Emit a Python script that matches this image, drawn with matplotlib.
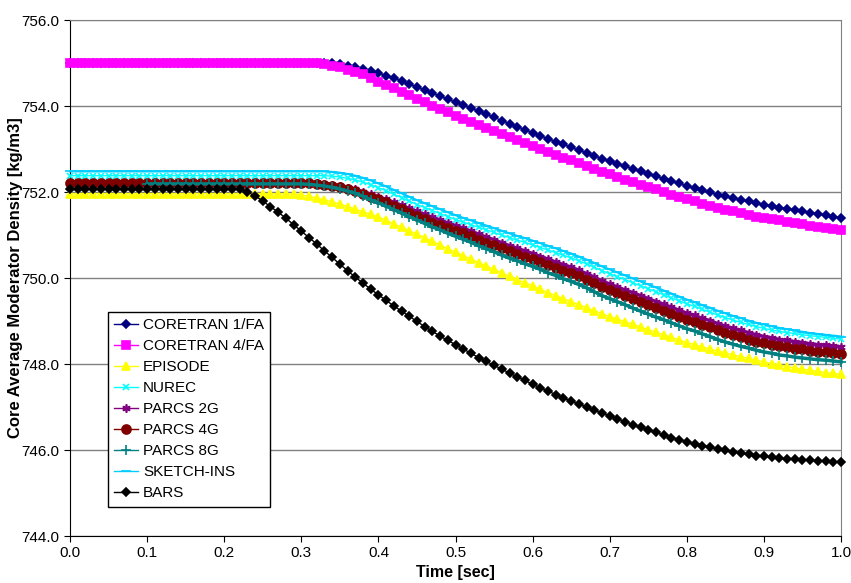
import matplotlib.pyplot as plt
import numpy as np

plt.rcParams['font.family'] = ['Liberation Sans', 'DejaVu Sans']

color_grid = "#808080"
color_label = "black"

# tempo [s], un punto ogni 0.01 s
time = np.round(np.arange(0, 101) * 0.01, 2)
time_8g = time[10:]

coretran_1fa = [
    755.00, 755.00, 755.00, 755.00, 755.00, 755.00, 755.00, 755.00, 755.00, 755.00,
    755.00, 755.00, 755.00, 755.00, 755.00, 755.00, 755.00, 755.00, 755.00, 755.00,
    755.00, 755.00, 755.00, 755.00, 755.00, 755.00, 755.00, 755.00, 755.00, 755.00,
    755.00, 755.00, 755.00, 755.00, 754.99, 754.97, 754.94, 754.90, 754.86, 754.82,
    754.77, 754.71, 754.65, 754.58, 754.51, 754.44, 754.37, 754.30, 754.23, 754.16,
    754.09, 754.02, 753.95, 753.88, 753.81, 753.74, 753.66, 753.59, 753.52, 753.45,
    753.38, 753.31, 753.24, 753.17, 753.11, 753.04, 752.97, 752.91, 752.84, 752.78,
    752.72, 752.66, 752.60, 752.54, 752.48, 752.42, 752.37, 752.31, 752.25, 752.20,
    752.14, 752.09, 752.04, 751.99, 751.94, 751.90, 751.86, 751.82, 751.78, 751.74,
    751.71, 751.67, 751.64, 751.61, 751.58, 751.55, 751.52, 751.49, 751.46, 751.43,
    751.40]

coretran_4fa = [
    755.00, 755.00, 755.00, 755.00, 755.00, 755.00, 755.00, 755.00, 755.00, 755.00,
    755.00, 755.00, 755.00, 755.00, 755.00, 755.00, 755.00, 755.00, 755.00, 755.00,
    755.00, 755.00, 755.00, 755.00, 755.00, 755.00, 755.00, 755.00, 755.00, 755.00,
    755.00, 755.00, 754.99, 754.97, 754.94, 754.90, 754.85, 754.80, 754.74, 754.66,
    754.57, 754.49, 754.41, 754.33, 754.25, 754.17, 754.09, 754.01, 753.93, 753.86,
    753.78, 753.71, 753.64, 753.57, 753.50, 753.43, 753.35, 753.28, 753.21, 753.14,
    753.07, 753.00, 752.93, 752.87, 752.80, 752.74, 752.67, 752.60, 752.54, 752.47,
    752.41, 752.35, 752.29, 752.23, 752.17, 752.11, 752.06, 752.00, 751.94, 751.89,
    751.83, 751.78, 751.73, 751.68, 751.63, 751.59, 751.55, 751.51, 751.47, 751.43,
    751.40, 751.37, 751.34, 751.31, 751.28, 751.25, 751.22, 751.19, 751.16, 751.13,
    751.11]

episode = [
    751.96, 751.96, 751.96, 751.96, 751.96, 751.96, 751.96, 751.96, 751.96, 751.96,
    751.96, 751.96, 751.96, 751.96, 751.96, 751.96, 751.96, 751.96, 751.96, 751.96,
    751.96, 751.96, 751.96, 751.96, 751.96, 751.96, 751.96, 751.96, 751.96, 751.95,
    751.93, 751.90, 751.86, 751.82, 751.77, 751.72, 751.66, 751.60, 751.54, 751.48,
    751.42, 751.34, 751.26, 751.18, 751.10, 751.02, 750.94, 750.85, 750.77, 750.68,
    750.60, 750.52, 750.44, 750.36, 750.28, 750.20, 750.12, 750.04, 749.96, 749.89,
    749.82, 749.74, 749.66, 749.59, 749.52, 749.45, 749.38, 749.31, 749.24, 749.17,
    749.10, 749.04, 748.98, 748.92, 748.86, 748.80, 748.74, 748.68, 748.62, 748.56,
    748.50, 748.45, 748.40, 748.35, 748.30, 748.26, 748.21, 748.17, 748.13, 748.09,
    748.05, 748.01, 747.98, 747.94, 747.91, 747.88, 747.85, 747.83, 747.80, 747.78,
    747.76]

nurec = [
    752.38, 752.38, 752.38, 752.38, 752.38, 752.38, 752.38, 752.38, 752.38, 752.38,
    752.38, 752.38, 752.38, 752.38, 752.38, 752.38, 752.38, 752.38, 752.38, 752.38,
    752.38, 752.38, 752.38, 752.38, 752.38, 752.38, 752.38, 752.38, 752.38, 752.38,
    752.38, 752.38, 752.38, 752.38, 752.37, 752.35, 752.32, 752.28, 752.23, 752.17,
    752.10, 752.03, 751.95, 751.87, 751.79, 751.71, 751.64, 751.57, 751.50, 751.43,
    751.36, 751.30, 751.24, 751.18, 751.12, 751.06, 751.00, 750.94, 750.88, 750.83,
    750.77, 750.71, 750.65, 750.59, 750.53, 750.47, 750.40, 750.33, 750.25, 750.17,
    750.10, 750.03, 749.96, 749.89, 749.82, 749.75, 749.68, 749.61, 749.54, 749.47,
    749.40, 749.34, 749.27, 749.21, 749.14, 749.08, 749.02, 748.97, 748.92, 748.87,
    748.83, 748.79, 748.76, 748.73, 748.71, 748.68, 748.66, 748.64, 748.62, 748.60,
    748.58]

parcs_2g = [
    752.22, 752.22, 752.22, 752.22, 752.22, 752.22, 752.22, 752.22, 752.22, 752.22,
    752.22, 752.22, 752.22, 752.22, 752.22, 752.22, 752.22, 752.22, 752.22, 752.22,
    752.22, 752.22, 752.22, 752.22, 752.22, 752.22, 752.22, 752.22, 752.22, 752.22,
    752.22, 752.21, 752.20, 752.18, 752.16, 752.13, 752.10, 752.06, 752.01, 751.95,
    751.89, 751.83, 751.76, 751.69, 751.62, 751.55, 751.48, 751.41, 751.35, 751.28,
    751.22, 751.16, 751.09, 751.02, 750.95, 750.89, 750.82, 750.75, 750.69, 750.63,
    750.57, 750.50, 750.44, 750.37, 750.31, 750.25, 750.18, 750.10, 750.02, 749.93,
    749.86, 749.79, 749.72, 749.66, 749.59, 749.52, 749.45, 749.39, 749.32, 749.25,
    749.18, 749.13, 749.06, 749.01, 748.94, 748.88, 748.83, 748.78, 748.73, 748.68,
    748.64, 748.61, 748.57, 748.55, 748.52, 748.50, 748.47, 748.45, 748.44, 748.42,
    748.40]

parcs_4g = [
    752.21, 752.21, 752.21, 752.21, 752.21, 752.21, 752.21, 752.21, 752.21, 752.21,
    752.21, 752.21, 752.21, 752.21, 752.21, 752.21, 752.21, 752.21, 752.21, 752.21,
    752.21, 752.21, 752.21, 752.21, 752.21, 752.21, 752.21, 752.21, 752.21, 752.21,
    752.21, 752.20, 752.19, 752.17, 752.14, 752.11, 752.07, 752.02, 751.96, 751.89,
    751.83, 751.76, 751.68, 751.60, 751.52, 751.44, 751.37, 751.29, 751.23, 751.16,
    751.10, 751.04, 750.97, 750.89, 750.82, 750.76, 750.69, 750.62, 750.56, 750.50,
    750.44, 750.37, 750.30, 750.24, 750.17, 750.11, 750.04, 749.96, 749.88, 749.79,
    749.72, 749.65, 749.58, 749.51, 749.44, 749.37, 749.30, 749.24, 749.17, 749.10,
    749.03, 748.98, 748.91, 748.85, 748.78, 748.72, 748.67, 748.62, 748.57, 748.52,
    748.48, 748.45, 748.41, 748.39, 748.36, 748.34, 748.31, 748.29, 748.28, 748.26,
    748.24]

# PARCS 8G parte da 0.1 s
parcs_8g = [
    752.19, 752.19, 752.19, 752.19, 752.19, 752.19, 752.19, 752.19, 752.19, 752.19,
    752.19, 752.19, 752.19, 752.19, 752.19, 752.19, 752.19, 752.19, 752.19, 752.19,
    752.19, 752.18, 752.16, 752.14, 752.11, 752.07, 752.02, 751.97, 751.90, 751.82,
    751.75, 751.67, 751.59, 751.51, 751.43, 751.35, 751.27, 751.19, 751.12, 751.04,
    750.97, 750.90, 750.83, 750.75, 750.68, 750.61, 750.53, 750.46, 750.40, 750.33,
    750.27, 750.20, 750.12, 750.06, 749.98, 749.92, 749.85, 749.77, 749.68, 749.59,
    749.52, 749.45, 749.38, 749.30, 749.23, 749.16, 749.09, 749.03, 748.96, 748.89,
    748.82, 748.77, 748.70, 748.64, 748.57, 748.51, 748.46, 748.41, 748.37, 748.32,
    748.28, 748.25, 748.21, 748.19, 748.16, 748.14, 748.12, 748.10, 748.09, 748.07,
    748.05]

sketch_ins = [
    752.48, 752.48, 752.48, 752.48, 752.48, 752.48, 752.48, 752.48, 752.48, 752.48,
    752.48, 752.48, 752.48, 752.48, 752.48, 752.48, 752.48, 752.48, 752.48, 752.48,
    752.48, 752.48, 752.48, 752.48, 752.48, 752.48, 752.48, 752.48, 752.48, 752.48,
    752.48, 752.48, 752.48, 752.48, 752.47, 752.45, 752.42, 752.38, 752.33, 752.27,
    752.20, 752.13, 752.05, 751.97, 751.89, 751.81, 751.74, 751.67, 751.60, 751.53,
    751.46, 751.40, 751.34, 751.28, 751.22, 751.16, 751.10, 751.04, 750.98, 750.93,
    750.87, 750.81, 750.75, 750.69, 750.63, 750.57, 750.50, 750.43, 750.35, 750.27,
    750.20, 750.13, 750.06, 749.99, 749.92, 749.85, 749.78, 749.71, 749.64, 749.57,
    749.50, 749.44, 749.37, 749.31, 749.24, 749.18, 749.12, 749.07, 749.01, 748.96,
    748.92, 748.88, 748.84, 748.81, 748.78, 748.75, 748.72, 748.70, 748.68, 748.66,
    748.64]

bars = [
    752.06, 752.06, 752.06, 752.06, 752.06, 752.06, 752.06, 752.06, 752.06, 752.06,
    752.06, 752.06, 752.06, 752.06, 752.06, 752.06, 752.06, 752.06, 752.06, 752.06,
    752.06, 752.06, 752.06, 752.00, 751.91, 751.79, 751.66, 751.53, 751.39, 751.24,
    751.09, 750.94, 750.79, 750.63, 750.48, 750.32, 750.17, 750.02, 749.88, 749.74,
    749.61, 749.48, 749.35, 749.23, 749.11, 748.99, 748.87, 748.76, 748.65, 748.55,
    748.45, 748.35, 748.25, 748.15, 748.06, 747.97, 747.88, 747.79, 747.70, 747.62,
    747.53, 747.45, 747.37, 747.29, 747.21, 747.14, 747.07, 747.00, 746.93, 746.86,
    746.79, 746.72, 746.66, 746.59, 746.53, 746.47, 746.41, 746.35, 746.29, 746.24,
    746.19, 746.14, 746.10, 746.06, 746.02, 745.99, 745.96, 745.93, 745.90, 745.87,
    745.85, 745.83, 745.81, 745.80, 745.78, 745.77, 745.76, 745.75, 745.74, 745.73,
    745.72]

labels = ["CORETRAN 1/FA", "CORETRAN 4/FA", "EPISODE", "NUREC", "PARCS 2G",
          "PARCS 4G", "PARCS 8G", "SKETCH-INS", "BARS"]
y_ticks = [744.0, 746.0, 748.0, 750.0, 752.0, 754.0, 756.0]
x_ticks = [0.0, 0.1, 0.2, 0.3, 0.4, 0.5, 0.6, 0.7, 0.8, 0.9, 1.0]

# (x, y, colore, marker, dimensione marker, spessore linea)
styles = [
    (time, coretran_1fa, "#000080", "D", 4.5, 1),
    (time, coretran_4fa, "#FF00FF", "s", 5.5, 1),
    (time, episode, "#FFFF00", "^", 6, 1),
    (time, nurec, "#00FFFF", "x", 5, 1),
    (time, parcs_2g, "#800080", (6, 2, 0), 6, 2.5),
    (time, parcs_4g, "#800000", "o", 6.5, 4),
    (time_8g, parcs_8g, "#008080", "+", 6.5, 2.5),
    (time, sketch_ins, "#00CCFF", "_", 7, 1.5),
    (time, bars, "#000000", "D", 4.5, 1),
]


def plotDensity():
    fig = plt.figure(figsize=(8.51, 5.83), dpi=100)
    ax = fig.add_axes([0.0823, 0.0806, 0.906, 0.885])

    lines = []
    for (x, y, col, mk, ms, lw), lab in zip(styles, labels):
        ax.plot(x, y, color=col, marker=mk, markersize=ms, markeredgewidth=1.2,
                linewidth=lw, clip_on=False, zorder=3)
        # handle per la legenda con linea sottile
        lines.append(plt.Line2D([], [], color=col, marker=mk, markersize=ms,
                                markeredgewidth=1.2, linewidth=1, label=lab))

    ax.set_xlim(0, 1)
    ax.set_ylim(744, 756)
    ax.set_xticks(x_ticks)
    ax.set_yticks(y_ticks)
    ax.set_xticklabels(["%.1f" % v for v in x_ticks])
    ax.set_yticklabels(["%.1f" % v for v in y_ticks])
    ax.tick_params(axis="both", labelsize=11, direction="out", length=4,
                   color="black", labelcolor=color_label)

    ax.yaxis.grid(True, color=color_grid, linewidth=1)
    ax.set_axisbelow(True)
    ax.spines["top"].set_color(color_grid)
    ax.spines["right"].set_color(color_grid)

    ax.set_xlabel("Time [sec]", fontsize=11.5, fontweight="bold",
                  color=color_label)
    ax.set_ylabel("Core Average Moderator Density [kg/m3]", fontsize=12,
                  fontweight="bold", color=color_label)
    ax.xaxis.set_label_coords(0.5, -0.057)
    ax.yaxis.set_label_coords(-0.061, 0.5)

    leg = ax.legend(handles=lines, loc="upper left",
                    bbox_to_anchor=(0.049, 0.434), borderaxespad=0,
                    fontsize=11, fancybox=False, framealpha=1,
                    edgecolor="black", handlelength=1.6, handletextpad=0.3,
                    labelspacing=0.46, borderpad=0.4)
    leg.get_frame().set_linewidth(1)

    fig.savefig("out.png", dpi=100)


plotDensity()
